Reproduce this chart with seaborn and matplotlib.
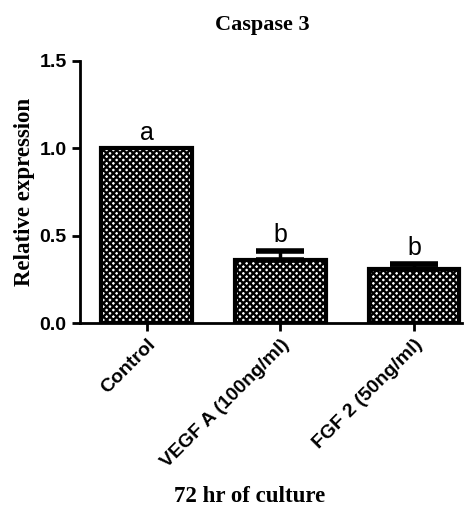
import matplotlib
matplotlib.use("Agg")
import matplotlib.pyplot as plt
import seaborn as sns
import pandas as pd

sns.set_style("ticks")
plt.rcParams['hatch.linewidth'] = 1.7
plt.rcParams['text.color'] = 'black'
plt.rcParams['xtick.color'] = 'black'
plt.rcParams['ytick.color'] = 'black'
plt.rcParams['axes.labelcolor'] = 'black'

groups = ["Control", "VEGF A (100ng/ml)", "FGF 2 (50ng/ml)"]
means = [1.0, 0.36, 0.31]
sem = [0.0, 0.055, 0.03]
letters = ["a", "b", "b"]

df = pd.DataFrame({"group": groups, "value": means})

fig = plt.figure(figsize=(4.73, 5.08), dpi=100)
ax = fig.add_axes([0.169, 0.364, 0.808, 0.516])

sns.barplot(data=df, x="group", y="value", order=groups, color="white",
            width=0.68, edgecolor="black", linewidth=3, errorbar=None, ax=ax)
for p in ax.patches:
    p.set_hatch("xxxxx")

# only upper error bars, control has none
idx = [i for i, s in enumerate(sem) if s > 0]
ax.errorbar(idx, [means[i] for i in idx], yerr=[[0] * len(idx), [sem[i] for i in idx]],
            fmt="none", ecolor="black", elinewidth=2.5, capsize=17, capthick=4, zorder=5)

for i, (m, s, t) in enumerate(zip(means, sem, letters)):
    ax.text(i, m + s + 0.02, t, ha="center", va="bottom", fontsize=18,
            family="Liberation Sans")

ax.set_ylim(0, 1.5)
ax.set_xlim(-0.5, 2.36)
ax.set_yticks([0, 0.5, 1.0, 1.5])
ax.set_yticklabels(["0.0", "0.5", "1.0", "1.5"])
sns.despine(ax=ax)
for s in ["left", "bottom"]:
    ax.spines[s].set_linewidth(2)
    ax.spines[s].set_color("black")
ax.tick_params(axis="both", width=2, length=6, direction="out", colors="black")

for lab in ax.get_yticklabels():
    lab.set_fontfamily("Liberation Sans")
    lab.set_fontweight("bold")
    lab.set_fontsize(14)
ax.set_xticks(range(len(groups)))
ax.set_xticklabels(groups, rotation=45, ha="right", rotation_mode="anchor",
                   fontfamily="Liberation Sans", fontweight="bold", fontsize=14)

ax.set_xlabel("72 hr of culture", fontfamily="Liberation Serif", fontweight="bold",
              fontsize=16.5)
ax.xaxis.set_label_coords(0.445, -0.62)
ax.set_ylabel("Relative expression", fontfamily="Liberation Serif", fontweight="bold",
              fontsize=16.5, labelpad=3)
ax.set_title("Caspase 3", fontfamily="Liberation Serif", fontweight="bold",
             fontsize=16, pad=22, x=0.476)

fig.savefig("out.png", dpi=100)
